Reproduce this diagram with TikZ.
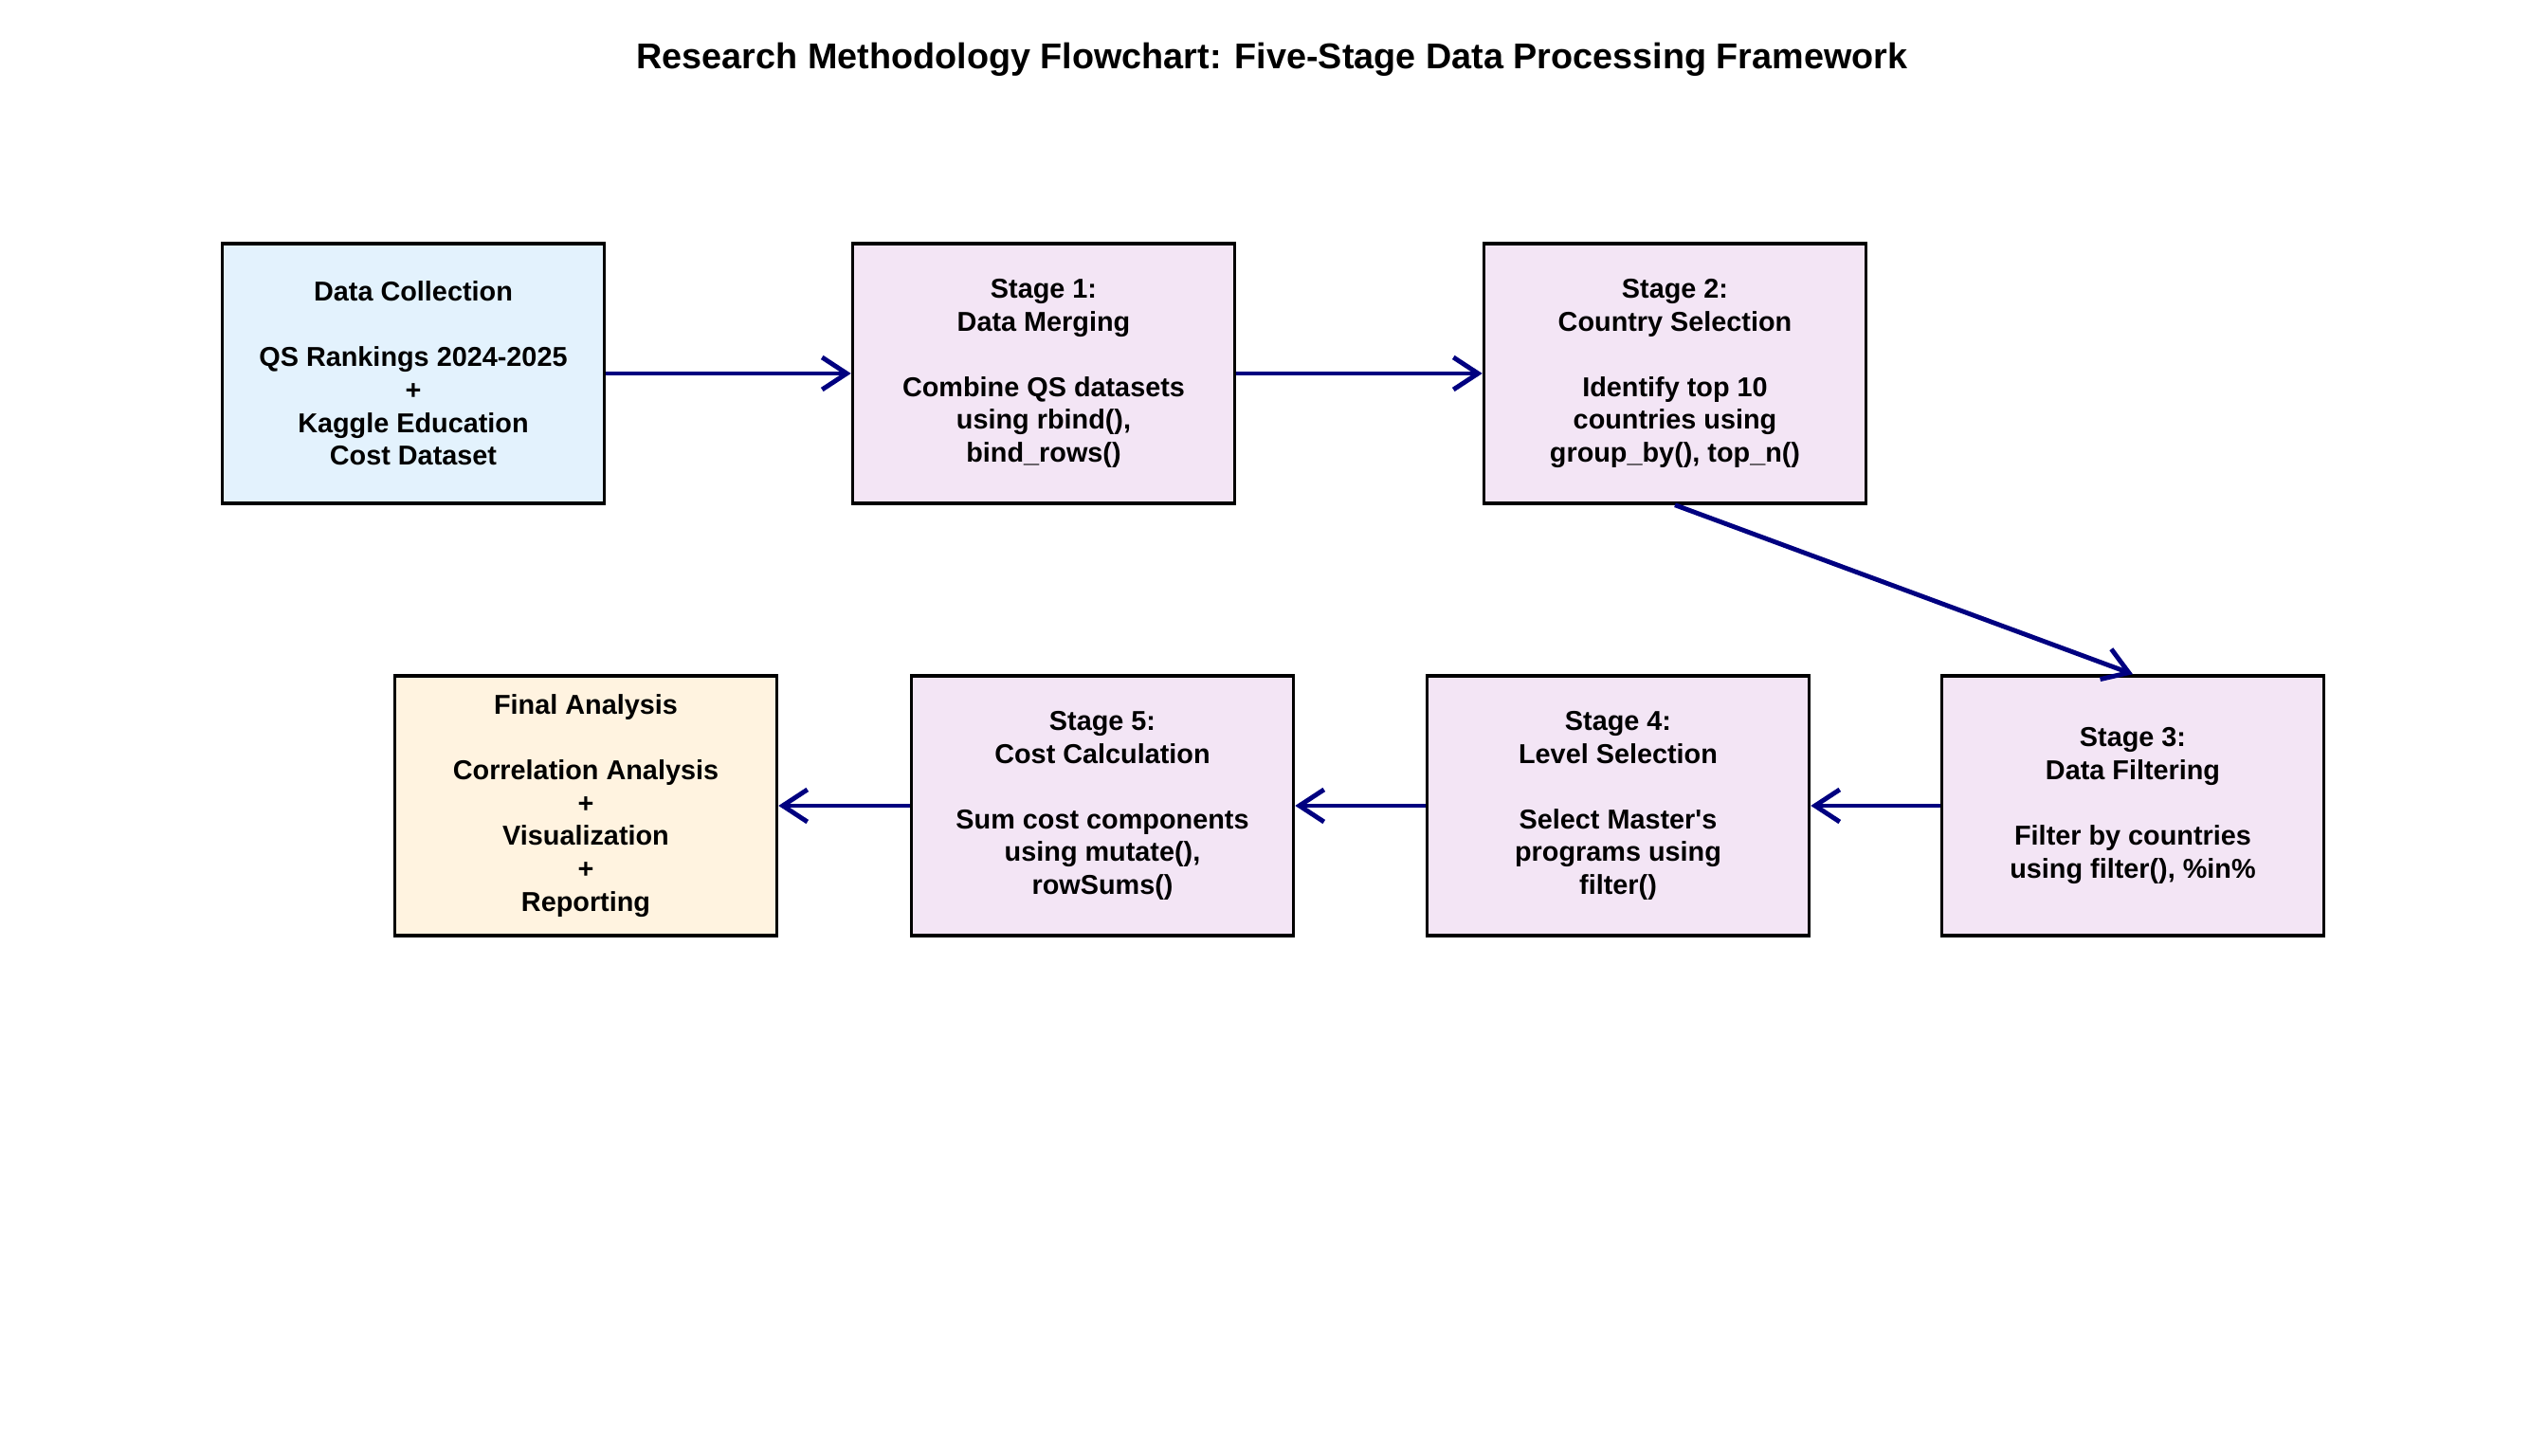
\documentclass[tikz,border=0pt]{standalone}
\usepackage{fontspec}
\setmainfont{Liberation Sans}
\definecolor{CollectionFill}{HTML}{E3F2FD}
\definecolor{StageFill}{HTML}{F3E5F5}
\definecolor{FinalFill}{HTML}{FFF3E0}
\definecolor{FlowArrow}{HTML}{000080}
\usetikzlibrary{arrows.meta}

\tikzset{
  box/.style={draw=black, line width=1pt, minimum width=4.03cm,
    minimum height=2.74cm, inner sep=0pt, align=center,
    font=\bfseries\fontsize{8.2}{9.85}\selectfont},
  flow/.style={->, draw=FlowArrow, line width=1.4pt,
    >={Straight Barb[length=2.6mm, width=3.4mm]}}
}

\begin{document}
\begin{tikzpicture}

\useasboundingbox (0,0) rectangle (26.88,15.36);

\node[font=\bfseries\fontsize{10.75}{12}\selectfont] (title) at (13.42,14.73)
  {Research Methodology Flowchart: Five-Stage Data Processing Framework};

%% Primera fila
\node[box, fill=CollectionFill] (dataCollection) at (4.36,11.42)
  {Data Collection\\[9.85pt] QS Rankings 2024-2025\\ +\\ Kaggle Education\\ Cost Dataset};
\node[box, fill=StageFill] (stageOne) at (11.01,11.42)
  {Stage 1:\\ Data Merging\\[9.85pt] Combine QS datasets\\ using rbind(),\\ bind\_rows()};
\node[box, fill=StageFill] (stageTwo) at (17.67,11.42)
  {Stage 2:\\ Country Selection\\[9.85pt] Identify top 10\\ countries using\\ group\_by(), top\_n()};

%% Segunda fila (de derecha a izquierda)
\node[box, fill=StageFill] (stageThree) at (22.50,6.86)
  {Stage 3:\\ Data Filtering\\[9.85pt] Filter by countries\\ using filter(), \%in\%};
\node[box, fill=StageFill] (stageFour) at (17.07,6.86)
  {Stage 4:\\ Level Selection\\[9.85pt] Select Master\textquotesingle s\\ programs using\\ filter()};
\node[box, fill=StageFill] (stageFive) at (11.63,6.86)
  {Stage 5:\\ Cost Calculation\\[9.85pt] Sum cost components\\ using mutate(),\\ rowSums()};
\node[box, fill=FinalFill] (finalAnalysis) at (6.18,6.86)
  {Final Analysis\\[9.85pt] Correlation Analysis\\ +\\ Visualization\\ +\\ Reporting};

% Flechas
\draw[flow] (dataCollection) -- (stageOne);
\draw[flow] (stageOne) -- (stageTwo);
\draw[flow] (stageTwo.south) -- (stageThree.north);
\draw[flow] (stageThree) -- (stageFour);
\draw[flow] (stageFour) -- (stageFive);
\draw[flow] (stageFive) -- (finalAnalysis);

\end{tikzpicture}
\end{document}
